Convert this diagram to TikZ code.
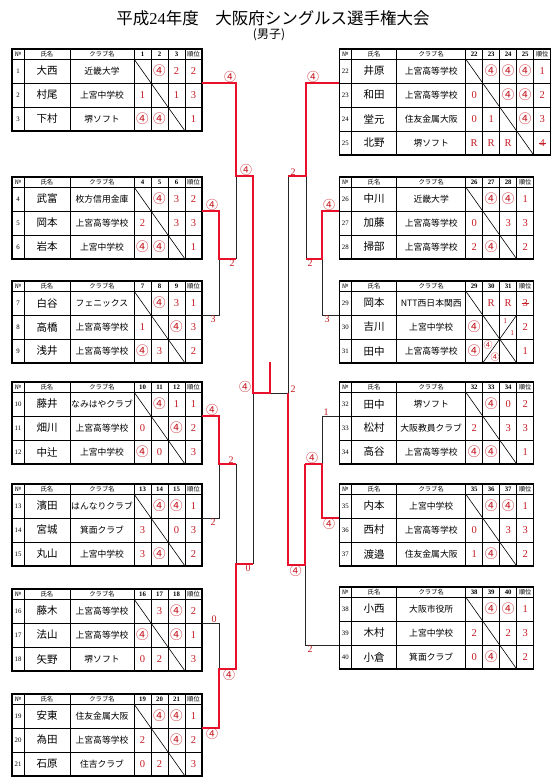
\documentclass[tikz,border=0pt]{standalone}
\usepackage{fontspec}
\setmainfont{Liberation Serif}
\newfontfamily\cjk{Noto Sans CJK JP}
\usepackage{graphicx}
\usepackage{tikz}
\usetikzlibrary{positioning,calc}
\usepackage{xcolor}
\definecolor{linered}{HTML}{E8102A}
\definecolor{scorered}{HTML}{C41A22}

\newcommand{\win}{{\cjk\scalebox{1.2}{④}}}
\newcommand{\strk}[1]{\makebox[0pt][l]{\kern-0.1em\rule[0.28em]{0.7em}{0.5pt}}#1}

\tikzset{
  tabline/.style={line width=0.6pt,black},
  tabframe/.style={line width=1.1pt,black},
  head/.style={font=\cjk\fontsize{6.3}{7}\selectfont,inner sep=0pt},
  headnum/.style={font=\fontsize{6.8}{7}\selectfont\bfseries,inner sep=0pt},
  nocell/.style={font=\fontsize{6.8}{7}\selectfont,inner sep=0pt},
  namecell/.style={font=\cjk\fontsize{10.5}{11}\selectfont,inner sep=0pt},
  clubcell/.style={font=\cjk\fontsize{8.8}{9}\selectfont,inner sep=0pt},
  score/.style={font=\fontsize{10.5}{11}\selectfont,text=scorered,inner sep=0pt},
  tiny score/.style={font=\fontsize{7.5}{8}\selectfont,text=scorered,inner sep=0pt},
  lab/.style={font=\fontsize{10}{10}\selectfont,text=scorered,inner sep=0.6pt},
  win/.style={draw=linered,line width=1.4pt},
  lose/.style={draw=black!85,line width=0.8pt},
}

% league table: name, x, y, name width, club width, header numbers
\newcommand{\grouptable}[6]{%
  \begin{scope}[shift={(#2,#3)}]
    \pgfmathsetmacro{\xb}{12+#4}
    \pgfmathsetmacro{\xc}{\xb+#5}
    \def\np{0}
    \foreach \h [count=\k] in {#6} {\xdef\np{\k}}
    \pgfmathsetmacro{\xe}{\xc+17*(\np+1)}
    \pgfmathsetmacro{\ye}{10+24*\np}
    \draw[tabline] (0,10) -- (\xe,10);
    \foreach \r in {1,...,\np} {
      \coordinate (#1-y\r) at (0,{24*\r-2});
      \coordinate (#1-l\r) at (0,{10+24*\r});
      \coordinate (#1-r\r) at (\xe,{10+24*\r});
      \draw[tabline] (#1-l\r) -- (#1-r\r);
    }
    \foreach \x in {12,\xb,\xc} \draw[tabline] (\x,0) -- (\x,\ye);
    \foreach \k in {1,...,\np} \draw[tabline] ({\xc+17*\k},0) -- ({\xc+17*\k},\ye);
    \draw[tabframe] (0,0) rectangle (\xe,\ye);
    \draw[tabline] (\xc,10) -- ({\xc+17*\np},\ye);
    \node[head] (#1-no) at (6,5) {№};
    \node[head] (#1-nm) at ({12+#4/2},5) {氏名};
    \node[head] (#1-cl) at ({\xb+#5/2},5) {クラブ名};
    \foreach \h [count=\k] in {#6} \node[headnum] (#1-c\k) at ({\xc+17*\k-8.5},5) {\h};
    \node[head] (#1-rk) at ({\xe-8.5},5) {順位};
  \end{scope}}

% one player row: table, row, No., name, club, scores, rank
\newcommand{\prow}[7]{%
  \node[nocell] (#1-n#2) at (#1-no |- #1-y#2) {#3};
  \node[namecell] (#1-p#2) at (#1-nm |- #1-y#2) {#4};
  \node[clubcell] (#1-q#2) at (#1-cl |- #1-y#2) {#5};
  \foreach \s [count=\k] in {#6} {\node[score] (#1-s#2-\k) at (#1-c\k |- #1-y#2) {\s};}
  \node[score] (#1-k#2) at (#1-rk |- #1-y#2) {#7};}

\begin{document}
\begin{tikzpicture}[x=1pt,y=-1pt]
\useasboundingbox (0,0) rectangle (560,780);

\node[font=\cjk\fontsize{16.5}{17}\selectfont,inner sep=0pt] (title) at (273,18) {平成{\rmfamily 24}年度　大阪府シングルス選手権大会};
\node[font=\cjk\fontsize{12}{12}\selectfont,inner sep=0pt] (sub) at (269,35) {(男子)};

% left blocks
\grouptable{g1}{12}{49}{46}{64}{1,2,3}
\prow{g1}{1}{1}{大西}{近畿大学}{{},\win,2}{2}
\prow{g1}{2}{2}{村尾}{上宮中学校}{1,{},1}{3}
\prow{g1}{3}{3}{下村}{堺ソフト}{\win,\win,{}}{1}

\grouptable{g2}{12}{177}{46}{64}{4,5,6}
\prow{g2}{1}{4}{武富}{枚方信用金庫}{{},\win,3}{2}
\prow{g2}{2}{5}{岡本}{上宮高等学校}{2,{},3}{3}
\prow{g2}{3}{6}{岩本}{上宮中学校}{\win,\win,{}}{1}

\grouptable{g3}{12}{281}{46}{64}{7,8,9}
\prow{g3}{1}{7}{白谷}{フェニックス}{{},\win,3}{1}
\prow{g3}{2}{8}{高橋}{上宮高等学校}{1,{},\win}{3}
\prow{g3}{3}{9}{浅井}{上宮高等学校}{\win,3,{}}{2}

\grouptable{g4}{12}{382}{46}{64}{10,11,12}
\prow{g4}{1}{10}{藤井}{なみはやクラブ}{{},\win,1}{1}
\prow{g4}{2}{11}{畑川}{上宮高等学校}{0,{},\win}{2}
\prow{g4}{3}{12}{中辻}{上宮中学校}{\win,0,{}}{3}

\grouptable{g5}{12}{484}{46}{64}{13,14,15}
\prow{g5}{1}{13}{濱田}{はんなりクラブ}{{},\win,\win}{1}
\prow{g5}{2}{14}{宮城}{箕面クラブ}{3,{},0}{3}
\prow{g5}{3}{15}{丸山}{上宮中学校}{3,\win,{}}{2}

\grouptable{g6}{12}{589}{46}{64}{16,17,18}
\prow{g6}{1}{16}{藤木}{上宮高等学校}{{},3,\win}{2}
\prow{g6}{2}{17}{法山}{上宮高等学校}{\win,{},\win}{1}
\prow{g6}{3}{18}{矢野}{堺ソフト}{0,2,{}}{3}

\grouptable{g7}{12}{694}{46}{64}{19,20,21}
\prow{g7}{1}{19}{安東}{住友金属大阪}{{},\win,\win}{1}
\prow{g7}{2}{20}{為田}{上宮高等学校}{2,{},\win}{2}
\prow{g7}{3}{21}{石原}{住吉クラブ}{0,2,{}}{3}

% right blocks
\grouptable{g8}{339.3}{49}{45.4}{69}{22,23,24,25}
\prow{g8}{1}{22}{井原}{上宮高等学校}{{},\win,\win,\win}{1}
\prow{g8}{2}{23}{和田}{上宮高等学校}{0,{},\win,\win}{2}
\prow{g8}{3}{24}{堂元}{住友金属大阪}{0,1,{},\win}{3}
\prow{g8}{4}{25}{北野}{堺ソフト}{R,R,R,{}}{\strk{4}}

\grouptable{g9}{339.3}{177}{45.4}{69}{26,27,28}
\prow{g9}{1}{26}{中川}{近畿大学}{{},\win,\win}{1}
\prow{g9}{2}{27}{加藤}{上宮高等学校}{0,{},3}{3}
\prow{g9}{3}{28}{掃部}{上宮高等学校}{2,\win,{}}{2}

\grouptable{g10}{339.3}{281}{45.4}{69}{29,30,31}
\prow{g10}{1}{29}{岡本}{NTT西日本関西}{{},R,R}{\strk{3}}
\prow{g10}{2}{30}{吉川}{上宮中学校}{\win,{},{}}{2}
\prow{g10}{3}{31}{田中}{上宮高等学校}{\win,{},{}}{1}
\draw[tabline] ([shift={(8.5,-12)}]g10-c3 |- g10-y2) -- ([shift={(-8.5,12)}]g10-c2 |- g10-y3);
\node[tiny score] (x1a) at ([shift={(-3,-5.5)}]g10-c3 |- g10-y2) {1};
\node[tiny score] (x1b) at ([shift={(4,6)}]g10-c3 |- g10-y2) {1};
\node[tiny score] (x2a) at ([shift={(-3,-5.5)}]g10-c2 |- g10-y3) {\win};
\node[tiny score] (x2b) at ([shift={(4,6)}]g10-c2 |- g10-y3) {\win};

\grouptable{g11}{339.3}{382}{45.4}{69}{32,33,34}
\prow{g11}{1}{32}{田中}{堺ソフト}{{},\win,0}{2}
\prow{g11}{2}{33}{松村}{大阪教員クラブ}{2,{},3}{3}
\prow{g11}{3}{34}{高谷}{上宮高等学校}{\win,\win,{}}{1}

\grouptable{g12}{339.3}{484}{45.4}{69}{35,36,37}
\prow{g12}{1}{35}{内本}{上宮中学校}{{},\win,\win}{1}
\prow{g12}{2}{36}{西村}{上宮高等学校}{0,{},3}{3}
\prow{g12}{3}{37}{渡邉}{住友金属大阪}{1,\win,{}}{2}

\grouptable{g13}{339.3}{587}{45.4}{69}{38,39,40}
\prow{g13}{1}{38}{小西}{大阪市役所}{{},\win,\win}{1}
\prow{g13}{2}{39}{木村}{上宮中学校}{2,{},2}{3}
\prow{g13}{3}{40}{小倉}{箕面クラブ}{0,\win,{}}{2}

% bracket joints
\coordinate (j23) at (219,259);
\coordinate (j1) at (236,176);
\coordinate (j45) at (219,464);
\coordinate (j67) at (219,669);
\coordinate (j47) at (236,564);
\coordinate (jL) at (253,393);
\coordinate (fin) at (270,393);
\coordinate (crown) at (270,362);
\coordinate (k23) at (322,259);
\coordinate (k1) at (306,176);
\coordinate (k45) at (322,464);
\coordinate (k46) at (305,565);
\coordinate (kR) at (288,393);

% losers first, winners on top
\draw[lose] (g3-r1) -| (j23);
\draw[lose] (j23 -| j1) -- (j1);
\draw[lose] (g5-r1) -| (j45);
\draw[lose] (j45 -| j47) -- (j47);
\draw[lose] (g6-r1) -| (j67);
\draw[lose] (j47 -| jL) -- (jL);
\draw[lose] (g10-l1) -| (k23);
\draw[lose] (k23 -| k1) -- (k1);
\draw[lose] (k1 -| kR) -- (kR) -- (fin);
\draw[lose] (g11-l1) -| (k45);
\draw[lose] (g13-l2) -| (k46);

\draw[win] (g2-r1) -| (j23) -- (j23 -| j1);
\draw[win] (g1-r1) -| (j1) -- (j1 -| jL) -- (jL) -- (fin) -- (crown);
\draw[win] (g4-r1) -| (j45) -- (j45 -| j47);
\draw[win] (g7-r1) -| (j67) -- (j67 -| j47) -- (j47) -- (j47 -| jL);
\draw[win] (g9-l1) -| (k23) -- (k23 -| k1);
\draw[win] (g8-l1) -| (k1) -- (k1 -| kR);
\draw[win] (g12-l1) -| (k45) -- (k45 -| k46);
\draw[win] (k45 -| k46) -- (k46) -- (k46 -| kR) -- (kR);

% match scores
\node[lab,above] (a1) at ([xshift=-6pt]g1-r1 -| j1) {\win};
\node[lab,above] (a2) at ([xshift=10pt]j1) {\win};
\node[lab,below] (a3) at ([xshift=-4pt]j23 -| j1) {2};
\node[lab,above] (a4) at ([xshift=-7pt]g2-r1 -| j23) {\win};
\node[lab,below] (a5) at ([xshift=-6pt]g3-r1 -| j23) {3};
\node[lab,above] (a6) at ([xshift=-7pt]g4-r1 -| j45) {\win};
\node[lab,above] (a7) at ([xshift=-5pt]j45 -| j47) {2};
\node[lab,below] (a8) at ([xshift=-6pt]g5-r1 -| j45) {2};
\node[lab,above] (a9) at ([xshift=-5pt]g6-r1 -| j67) {0};
\node[lab,below] (a10) at ([xshift=-7pt]g7-r1 -| j67) {\win};
\node[lab,below] (a11) at ([xshift=-7pt]j67 -| j47) {\win};
\node[lab,below] (a12) at ([xshift=-5pt]j47 -| jL) {0};
\node[lab,above] (a13) at ([xshift=-8pt]jL) {\win};
\node[lab,above] (b1) at ([xshift=5pt]kR) {2};
\node[lab,above] (b2) at ([xshift=7pt]k1 |- g8-l1) {\win};
\node[lab,above] (b3) at ([xshift=5pt]kR |- k1) {2};
\node[lab,below] (b4) at ([xshift=4pt]k23 -| k1) {2};
\node[lab,above] (b5) at ([xshift=7pt]g9-l1 -| k23) {\win};
\node[lab,below] (b6) at ([xshift=5pt]g10-l1 -| k23) {3};
\node[lab,above] (b7) at ([xshift=4pt]g11-l1 -| k45) {1};
\node[lab,above] (b8) at ([xshift=7pt]k46 |- k45) {\win};
\node[lab,below] (b9) at ([xshift=7pt]g12-l1 -| k45) {\win};
\node[lab,below] (b10) at ([xshift=7.5pt]kR |- k46) {\win};
\node[lab,below] (b11) at ([xshift=5pt]k46 |- g13-l2) {2};
\end{tikzpicture}
\end{document}
